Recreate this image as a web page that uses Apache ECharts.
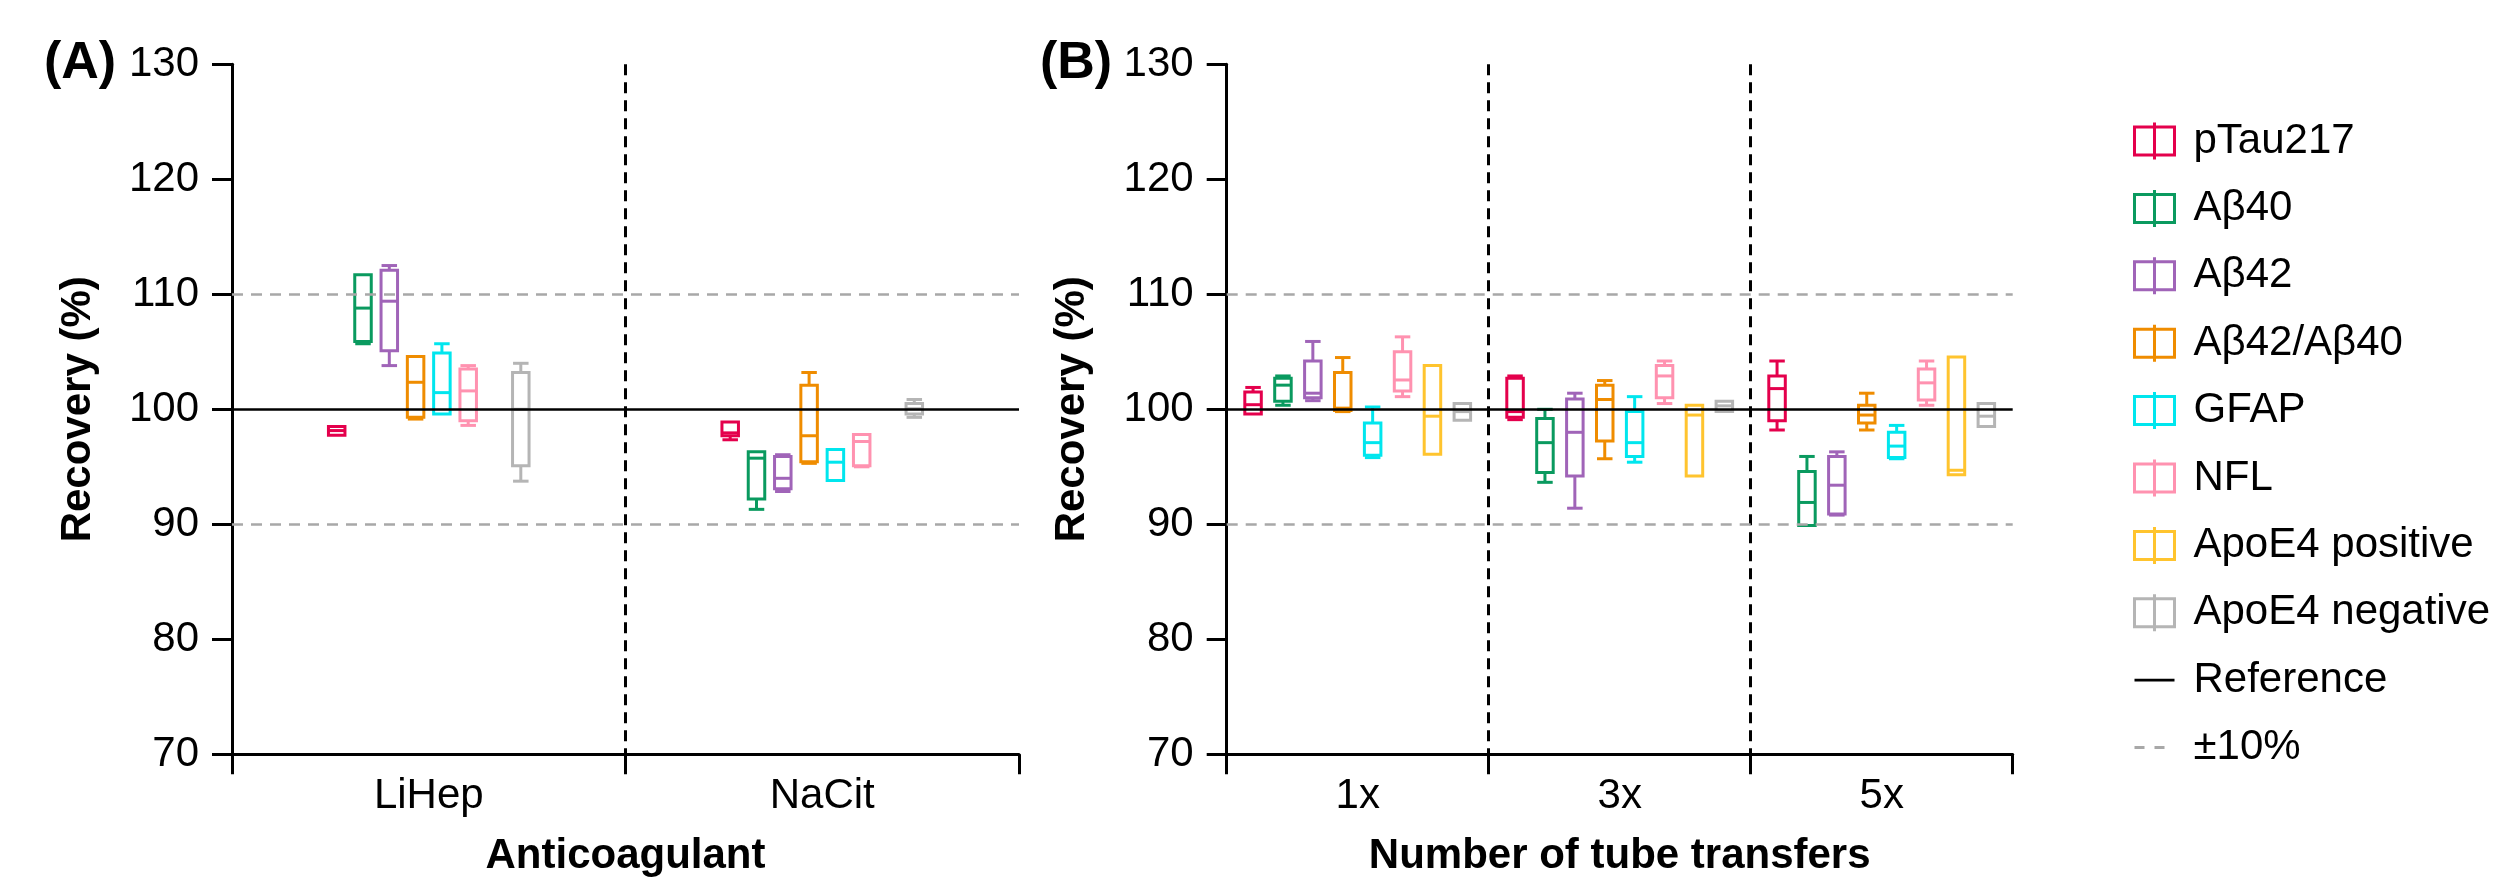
<!DOCTYPE html>
<html>
<head>
<meta charset="utf-8">
<script src="https://cdn.jsdelivr.net/npm/echarts@6/dist/echarts.min.js"></script>
<style>
html,body{margin:0;padding:0;background:#fff;}
#c{width:2505px;height:878px;}
</style>
</head>
<body>
<div id="c"></div>
<script>
// ---------------- DATA ----------------
const categoriesA = ['LiHep', 'NaCit'];
const categoriesB = ['1x', '3x', '5x'];
const yTicks = [70, 80, 90, 100, 110, 120, 130];
const markers = ['pTau217', 'Aβ40', 'Aβ42', 'Aβ42/Aβ40', 'GFAP', 'NFL', 'ApoE4 positive', 'ApoE4 negative'];
const referenceValues = [100];
const limitValues = [90, 110];

// each entry: [min, Q1, median, Q3, max] for one category (null = not measured)
// Panel A: LiHep, NaCit
const pTau217_A  = [[97.75, 97.75, 98.15, 98.5, 98.5], [97.35, 97.7, 97.95, 98.9, 98.9]];
const Ab40_A     = [[105.7, 105.9, 108.8, 111.7, 111.7], [91.3, 92.2, 95.75, 96.3, 96.3]];
const Ab42_A     = [[103.8, 105.1, 109.4, 112.1, 112.5], [92.85, 93.1, 94.0, 95.9, 96.05]];
const Ab42_40_A  = [[99.15, 99.3, 102.35, 104.6, 104.6], [95.3, 95.45, 97.7, 102.1, 103.2]];
const GFAP_A     = [[99.6, 99.6, 101.45, 104.9, 105.7], [93.8, 93.8, 95.4, 96.5, 96.5]];
const NFL_A      = [[98.6, 99.0, 101.6, 103.5, 103.8], [95.0, 95.1, 97.2, 97.8, 97.8]];
const ApoE4pos_A = [null, null];
const ApoE4neg_A = [[93.75, 95.1, 100.0, 103.2, 104.0], [99.3, 99.6, 100.05, 100.5, 100.85]];

// Panel B: 1x, 3x, 5x
const pTau217_B  = [[99.6, 99.6, 100.4, 101.5, 101.9], [99.1, 99.3, 99.8, 102.7, 102.9], [98.2, 99.0, 101.8, 102.9, 104.2]];
const Ab40_B     = [[100.35, 100.7, 102.1, 102.7, 102.9], [93.65, 94.5, 97.1, 99.2, 100.0], [89.9, 89.9, 91.9, 94.6, 95.9]];
const Ab42_B     = [[100.75, 101.0, 101.4, 104.2, 105.9], [91.4, 94.2, 98.0, 100.9, 101.4], [90.8, 90.9, 93.4, 95.9, 96.3]];
const Ab42_40_B  = [[99.8, 99.9, 100.1, 103.2, 104.5], [95.7, 97.25, 100.85, 102.1, 102.5], [98.2, 98.8, 99.5, 100.35, 101.4]];
const GFAP_B     = [[95.8, 96.0, 97.1, 98.8, 100.2], [95.4, 95.9, 97.1, 99.8, 101.1], [95.7, 95.8, 96.8, 98.0, 98.6]];
const NFL_B      = [[101.1, 101.6, 102.55, 105.0, 106.3], [100.5, 101.0, 102.9, 103.8, 104.2], [100.35, 100.8, 102.3, 103.5, 104.2]];
const ApoE4pos_B = [[96.1, 96.1, 99.4, 103.8, 103.8], [94.2, 94.2, 99.5, 100.35, 100.35], [94.3, 94.3, 94.7, 104.55, 104.55]];
const ApoE4neg_B = [[99.05, 99.05, 99.8, 100.5, 100.5], [99.8, 99.8, 100.3, 100.7, 100.7], [98.5, 98.5, 99.4, 100.5, 100.5]];

// ---------------- STYLE ----------------
const COLORS = ['#E4004C', '#0A9A5F', '#A064B8', '#EF8C00', '#00E6EE', '#FF92B0', '#FFC42E', '#B5B5B5'];
const FONT = '"Liberation Sans", Arial, Helvetica, sans-serif';
const LW = 3;
const BOX_W = 16.5;
const CAP_W = 15.5;
const SLOT = [26.3, 29.9];   // px between neighbouring boxes in panel A / B
const BOX_ICON = 'path://M0,4.5H40V32.5H0Z M20,0V37';

const panelA = [pTau217_A, Ab40_A, Ab42_A, Ab42_40_A, GFAP_A, NFL_A, ApoE4pos_A, ApoE4neg_A];
const panelB = [pTau217_B, Ab40_B, Ab42_B, Ab42_40_B, GFAP_B, NFL_B, ApoE4pos_B, ApoE4neg_B];

function makeRender(k, spacing) {
  return function (params, api) {
    const c = api.value(0);
    const mn = api.value(1), q1 = api.value(2), md = api.value(3), q3 = api.value(4), mx = api.value(5);
    const base = api.coord([c, md]);
    const cx = base[0] + (k - 3.5) * spacing;
    const y = v => api.coord([c, v])[1];
    const color = api.visual('color');
    const hw = BOX_W / 2, cw = CAP_W / 2;
    const st = () => ({ stroke: color, lineWidth: LW, fill: null });
    const ch = [];
    if (mx > q3) {
      ch.push({ type: 'line', shape: { x1: cx, y1: y(q3), x2: cx, y2: y(mx) }, style: st() });
      ch.push({ type: 'line', shape: { x1: cx - cw, y1: y(mx), x2: cx + cw, y2: y(mx) }, style: st() });
    }
    if (mn < q1) {
      ch.push({ type: 'line', shape: { x1: cx, y1: y(q1), x2: cx, y2: y(mn) }, style: st() });
      ch.push({ type: 'line', shape: { x1: cx - cw, y1: y(mn), x2: cx + cw, y2: y(mn) }, style: st() });
    }
    ch.push({ type: 'rect', shape: { x: cx - hw, y: y(q3), width: 2 * hw, height: y(q1) - y(q3) },
      style: { stroke: color, lineWidth: LW, fill: '#fff' } });
    ch.push({ type: 'line', shape: { x1: cx - hw, y1: y(md), x2: cx + hw, y2: y(md) }, style: st() });
    return { type: 'group', children: ch };
  };
}

const series = [];
[panelA, panelB].forEach((panel, p) => {
  // reference and ±10% lines
  series.push({
    type: 'line', name: 'Reference', xAxisIndex: p, yAxisIndex: p, data: [], symbol: 'none', silent: true, z: 1,
    lineStyle: { color: '#000', width: 3 },
    markLine: { silent: true, symbol: ['none', 'none'], label: { show: false }, animation: false,
      lineStyle: { color: '#000', width: 2.7, type: 'solid' },
      data: referenceValues.map(v => ({ yAxis: v })) }
  });
  series.push({
    type: 'line', name: '±10%', xAxisIndex: p, yAxisIndex: p, data: [], symbol: 'none', silent: true, z: 1,
    lineStyle: { color: '#A8A8A8', width: 3, type: [10, 10] },
    markLine: { silent: true, symbol: ['none', 'none'], label: { show: false }, animation: false,
      lineStyle: { color: '#A8A8A8', width: 2.7, type: [11, 8] },
      data: limitValues.map(v => ({ yAxis: v })) }
  });
  panel.forEach((arr, k) => {
    const data = [];
    arr.forEach((v, i) => { if (v) data.push([i].concat(v)); });
    series.push({
      type: 'custom', name: markers[k], xAxisIndex: p, yAxisIndex: p, z: 3,
      itemStyle: { color: COLORS[k] },
      encode: { x: 0, y: [1, 2, 3, 4, 5] },
      data: data,
      renderItem: makeRender(k, SLOT[p])
    });
  });
});

const axisText = { fontSize: 42, fontFamily: FONT, color: '#000' };
const nameText = { fontSize: 42, fontFamily: FONT, color: '#000', fontWeight: 'bold' };

const option = {
  animation: false,
  backgroundColor: '#fff',
  grid: [
    { left: 232, top: 64.3, width: 787, height: 690, containLabel: false, outerBoundsMode: 'none' },
    { left: 1226.7, top: 64.3, width: 786, height: 690, containLabel: false, outerBoundsMode: 'none' }
  ],
  xAxis: [0, 1].map(i => ({
    type: 'category', gridIndex: i, data: i ? categoriesB : categoriesA, boundaryGap: true,
    axisLine: { show: true, onZero: false, lineStyle: { color: '#000', width: 3 } },
    axisTick: { show: true, interval: 0, length: 20, inside: false, alignWithLabel: false, lineStyle: { color: '#000', width: 3 } },
    axisLabel: Object.assign({ show: true, interval: 0, margin: 21 }, axisText),
    splitLine: { show: true, interval: 0, showMinLine: false, showMaxLine: false,
      lineStyle: { color: '#000', width: 3, type: [11, 7] } },
    name: i ? 'Number of tube transfers' : 'Anticoagulant',
    nameLocation: 'middle', nameGap: 81, nameMoveOverlap: false, nameTextStyle: nameText
  })),
  yAxis: [0, 1].map(i => ({
    type: 'value', gridIndex: i, min: yTicks[0], max: yTicks[yTicks.length - 1], interval: yTicks[1] - yTicks[0],
    axisLine: { show: true, onZero: false, lineStyle: { color: '#000', width: 3 } },
    axisTick: { show: true, length: 20, inside: false, lineStyle: { color: '#000', width: 3 } },
    axisLabel: Object.assign({ show: true, margin: 33 }, axisText),
    splitLine: { show: false },
    name: 'Recovery (%)', nameLocation: 'middle', nameGap: 133, nameMoveOverlap: false, nameTextStyle: nameText
  })),
  legend: {
    show: true, orient: 'vertical', left: 2133, top: 120, padding: 0,
    itemWidth: 40, itemHeight: 37, itemGap: 25.4, selectedMode: false,
    textStyle: { fontSize: 42, fontFamily: FONT, color: '#000', lineHeight: 42, padding: [0, 0, 0, 14] },
    data: markers.map((m, k) => ({
      name: m, icon: BOX_ICON,
      itemStyle: { color: 'rgba(0,0,0,0)', borderColor: COLORS[k], borderWidth: 3 }
    })).concat([
      { name: 'Reference', itemStyle: { opacity: 0 }, lineStyle: { color: '#000', width: 2.7, type: 'solid' } },
      { name: '±10%', itemStyle: { opacity: 0 }, lineStyle: { color: '#A8A8A8', width: 3, type: [10, 10] } }
    ])
  },
  graphic: [
    { type: 'text', x: 44, y: 64, style: { text: '(A)', fontSize: 52, fontWeight: 'bold', fontFamily: FONT, fill: '#000', verticalAlign: 'middle', align: 'left' } },
    { type: 'text', x: 1040, y: 64, style: { text: '(B)', fontSize: 52, fontWeight: 'bold', fontFamily: FONT, fill: '#000', verticalAlign: 'middle', align: 'left' } }
  ],
  series: series
};

const chart = echarts.init(document.getElementById('c'), null, { renderer: 'canvas', width: 2505, height: 878 });
chart.setOption(option);
</script>
</body>
</html>
